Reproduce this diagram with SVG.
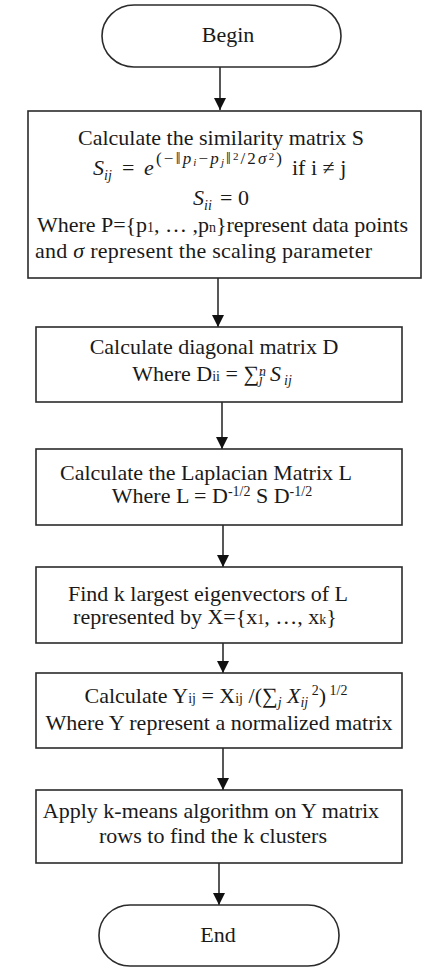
<svg xmlns="http://www.w3.org/2000/svg" width="425" height="970" viewBox="0 0 425 970">
<defs>
<marker id="ah" markerUnits="userSpaceOnUse" markerWidth="12" markerHeight="12" viewBox="0 0 12 12" refX="12" refY="6" orient="auto"><path d="M0,0 L12,6 L0,12 z" fill="#111"/></marker>
<style>
.box{fill:#fff;stroke:#2b2b2b;stroke-width:1.6}
.t{font-family:"Liberation Serif","Times New Roman",serif;font-size:22px;fill:#1a1a1a}
.m{text-anchor:middle}
.i{font-style:italic}
.s{font-size:14px}
.e{font-size:17px;letter-spacing:2.2px}
.x{font-size:11px;letter-spacing:2px}
.c{stroke:#111;stroke-width:1.4;fill:none;marker-end:url(#ah)}
</style>
</defs>
<rect width="425" height="970" fill="#fff"/>
<g id="connectors">
<line class="c" x1="220" y1="67" x2="220" y2="110"/>
<line class="c" x1="218" y1="278" x2="218" y2="327"/>
<line class="c" x1="222" y1="402" x2="222" y2="449"/>
<line class="c" x1="223" y1="525" x2="223" y2="567"/>
<line class="c" x1="223" y1="643" x2="223" y2="673"/>
<line class="c" x1="223" y1="748" x2="223" y2="790"/>
<line class="c" x1="219" y1="863" x2="219" y2="905"/>
</g>
<g id="begin">
<rect class="box" x="102" y="5" width="239" height="62" rx="32" ry="31"/>
<text class="t m" x="228" y="42">Begin</text>
</g>
<g id="similarity">
<rect class="box" x="28" y="111" width="393" height="167"/>
<text class="t m" x="221" y="145">Calculate the similarity matrix S</text>
<text class="t" x="93" y="175"><tspan class="i">S</tspan><tspan class="i s" dy="5">ij</tspan><tspan x="122" dy="-5">=</tspan><tspan class="i" x="144">e</tspan><tspan class="e" x="156" dy="-11">(−‖</tspan><tspan class="e i">p</tspan><tspan class="x i" dy="2">i</tspan><tspan class="e" dy="-2">−</tspan><tspan class="e i">p</tspan><tspan class="x i" dy="2">j</tspan><tspan class="e" dy="-2">‖</tspan><tspan class="x" dy="-4">2</tspan><tspan class="e" dy="4">/2</tspan><tspan class="e i">σ</tspan><tspan class="x" dy="-4">2</tspan><tspan class="e" dy="4">)</tspan><tspan x="292" dy="11">if i ≠ j</tspan></text>
<text class="t" x="193" y="205"><tspan class="i">S</tspan><tspan class="i s" dy="5">ii</tspan><tspan x="220" dy="-5">= 0</tspan></text>
<text class="t" x="37" y="232" textLength="371" lengthAdjust="spacing">Where P={p<tspan class="s">1</tspan>, … ,p<tspan class="s">n</tspan>}represent data points</text>
<text class="t" x="35" y="258" textLength="337" lengthAdjust="spacing">and <tspan class="i">σ</tspan>  represent the scaling parameter</text>
</g>
<g id="diagonal">
<rect class="box" x="36" y="327" width="366" height="75"/>
<text class="t m" x="214" y="354">Calculate diagonal matrix D</text>
<text class="t m" x="212" y="381">Where D<tspan class="s">ii</tspan> = ∑<tspan class="s i" dy="3">j</tspan><tspan class="s i" dx="-4" dy="-8">n</tspan><tspan class="i" dx="4" dy="5">S</tspan><tspan class="s i" dx="3" dy="4">ij</tspan></text>
</g>
<g id="laplacian">
<rect class="box" x="36" y="449" width="366" height="76"/>
<text class="t m" x="206" y="480">Calculate the Laplacian Matrix L</text>
<text class="t m" x="212" y="503">Where L = D<tspan class="s" dy="-7">-1/2</tspan><tspan dy="7"> S D</tspan><tspan class="s" dy="-7">-1/2</tspan></text>
</g>
<g id="eigen">
<rect class="box" x="36" y="567" width="366" height="76"/>
<text class="t m" x="208" y="601">Find k largest eigenvectors of L</text>
<text class="t m" x="205" y="624">represented by X={x<tspan class="s">1</tspan>, …, x<tspan class="s">k</tspan>}</text>
</g>
<g id="normalize">
<rect class="box" x="36" y="673" width="366" height="75"/>
<text class="t m" x="216" y="703">Calculate Y<tspan class="s">ij</tspan> = X<tspan class="s">ij</tspan> /(∑<tspan class="s i" dy="4">j</tspan><tspan class="i" dy="-4"> X</tspan><tspan class="s i" dy="4">ij</tspan><tspan class="s" dy="-12"> 2</tspan><tspan dy="8">)</tspan><tspan class="s" dy="-8"> 1/2</tspan></text>
<text class="t m" x="219" y="730">Where Y represent a normalized matrix</text>
</g>
<g id="kmeans">
<rect class="box" x="36" y="790" width="366" height="73"/>
<text class="t m" x="211" y="818">Apply k-means algorithm on Y matrix</text>
<text class="t m" x="213" y="843">rows to find the k clusters</text>
</g>
<g id="end">
<rect class="box" x="99" y="905" width="240" height="61" rx="31" ry="30"/>
<text class="t m" x="218" y="942">End</text>
</g>
</svg>
